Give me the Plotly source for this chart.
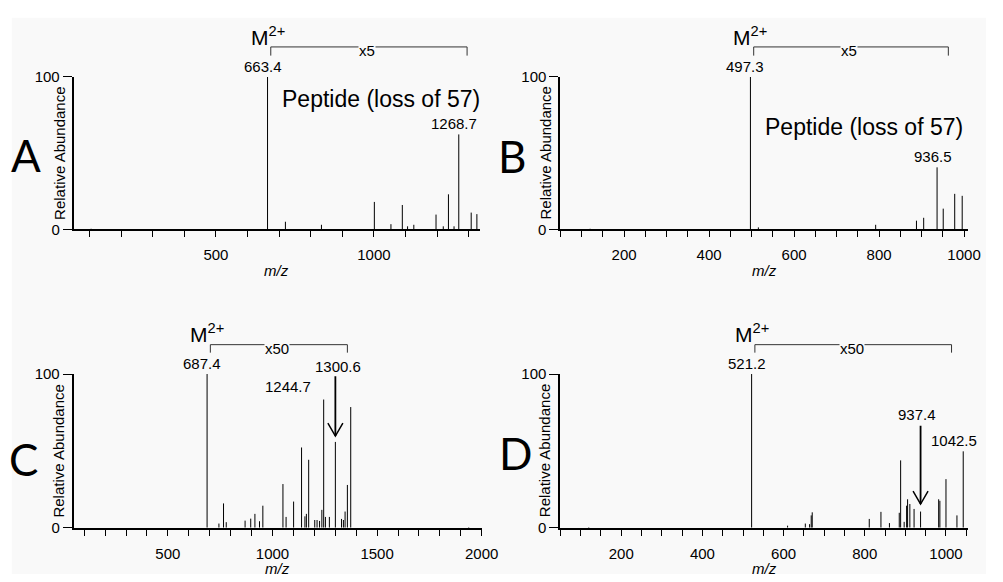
import plotly.graph_objects as go

# ---------------- data ----------------
# Panel A
a_mz = [105, 663.4, 720, 834, 1001.5, 1054, 1090, 1106.6, 1126.4, 1196.7, 1219.6, 1236, 1253.7, 1268.7, 1308, 1326]
a_int = [0.4, 100, 5, 3, 18, 3.4, 16, 2, 3, 9.7, 2, 23, 2, 62.3, 11, 10]
# Panel B
b_mz = [120, 497.3, 516, 792, 888, 905, 936.5, 951, 978, 995.6]
b_int = [0.4, 100, 1.3, 3, 5.7, 7.6, 40.7, 13.6, 23.3, 22]
# Panel C
c_mz = [687.4, 744, 766, 779, 869, 896, 916, 938, 954, 1050, 1065, 1101, 1139, 1155, 1162, 1173,
        1202, 1213, 1225, 1236, 1244.7, 1253, 1272, 1300.6, 1330, 1339, 1347, 1358, 1374, 1938]
c_int = [100, 2.7, 15.8, 3.6, 4.6, 5.9, 9, 4.2, 14.3, 28.4, 7, 17, 52.2, 7.4, 9, 44.2,
         5, 5, 4.4, 11.6, 83.4, 7, 7, 55.8, 5.7, 5, 10.5, 27.8, 78.5, 0.4]
# Panel D
d_mz = [120, 521.2, 609.8, 653.5, 664, 668, 670.5, 811, 839.8, 860.7, 884.9, 888.3, 897, 903, 905.4,
        911, 921.4, 937.4, 982, 985, 1000, 1027, 1042.5]
d_int = [0.4, 100, 1.3, 2.7, 2.3, 8, 10, 5.7, 10.3, 3, 9.7, 43.8, 3.8, 14.3, 18.5,
         15.4, 12.2, 10.5, 18.5, 17.5, 31.6, 8, 49.7]

panel_letters = ["A", "B", "C", "D"]
x_ranges = [[50, 1335], [50, 1010], [50, 2000], [50, 1055]]
x_major = [500, 200, 500, 200]
x_minor = [100, 50, 100, 50]
parent_mz = [663.4, 497.3, 687.4, 521.2]
parent_labels = ["663.4", "497.3", "687.4", "521.2"]
bracket_end = [1295, 963, 1358, 1013.7]
zoom_labels = ["x5", "x5", "x50", "x50"]
y_ticks = [0, 100]
y_title = "Relative Abundance"
x_title = "<i>m/z</i>"
# arrows marking the loss product (panel C and D): m/z, tip, tail (relative abundance units)
arrow_mz = [1300.6, 937.4]
arrow_tip = [59.6, 15.4]
arrow_tail = [98.5, 66.3]

peaks = [(a_mz, a_int), (b_mz, b_int), (c_mz, c_int), (d_mz, d_int)]

# ---------------- layout geometry ----------------
W, H = 1003, 582
BG = "#f9f9f9"
FONT = "Liberation Sans, Arial, sans-serif"
x_domains = [[75 / W, 488 / W], [570 / W, 985 / W], [75 / W, 490 / W], [570 / W, 985 / W]]
y_domains = [[(H - 227) / H, (H - 70) / H], [(H - 227) / H, (H - 70) / H],
             [(H - 534.3) / H, (H - 376) / H], [(H - 534.3) / H, (H - 376) / H]]
letter_shift = [(-48, -2), (-48, -3), (-50, -8), (-45, -2)]

fig = go.Figure()
shapes = []
annotations = []

# light grey page area with thin white border at top/left
shapes.append(dict(type="rect", xref="paper", yref="paper", x0=12 / W, x1=1, y0=0, y1=(H - 9) / H,
                   fillcolor=BG, line=dict(width=0), layer="below"))


def txt(size):
    return dict(family=FONT, size=size, color="black")


for i in range(4):
    n = "" if i == 0 else str(i + 1)
    xa, ya = "x" + n, "y" + n
    mz, inten = peaks[i]
    xs, ys = [], []
    for m, v in zip(mz, inten):
        xs += [m, m, None]
        ys += [0, v, None]
    fig.add_trace(go.Scatter(x=xs, y=ys, mode="lines", line=dict(color="black", width=1),
                             xaxis=xa, yaxis=ya, showlegend=False, hoverinfo="skip"))

    fig.layout["xaxis" + n] = dict(
        domain=x_domains[i], anchor=ya, range=x_ranges[i], showgrid=False, zeroline=False,
        showline=True, linewidth=2, linecolor="black", ticks="outside", ticklen=6, tickwidth=1,
        tickcolor="black", dtick=x_major[i], tick0=0, ticklabelstandoff=5,
        minor=dict(dtick=x_minor[i], tick0=0, ticks="outside", ticklen=6, tickwidth=1,
                   tickcolor="black", showgrid=False),
        tickfont=txt(15))
    fig.layout["yaxis" + n] = dict(
        domain=y_domains[i], anchor=xa, range=[0, 100], showgrid=False, zeroline=False,
        showline=True, linewidth=2, linecolor="black", ticks="outside", ticklen=9, tickwidth=1,
        tickcolor="black", tickvals=y_ticks, ticklabelstandoff=0,
        tickfont=txt(15))

    xd, yd = xa + " domain", ya + " domain"
    top = 1.197 if i < 2 else 1.191
    end = 1.140 if i < 2 else 1.139
    x0 = parent_mz[i] + (x_ranges[i][1] - x_ranges[i][0]) * 0.008
    shapes.append(dict(type="path", xref=xa, yref=yd,
                       path=f"M {x0},{end} L {x0},{top} L {bracket_end[i]},{top} L {bracket_end[i]},{end}",
                       line=dict(color="#333", width=1)))
    annotations.append(dict(x=(parent_mz[i] + bracket_end[i]) / 2, y=top - 0.025, xref=xa, yref=yd,
                            text=zoom_labels[i], showarrow=False, bgcolor=BG, borderpad=0,
                            font=txt(15), xanchor="center", yanchor="middle"))
    annotations.append(dict(x=parent_mz[i], y=1.27, xref=xa, yref=yd, text="M<sup>2+</sup>",
                            showarrow=False, font=txt(21), xanchor="center", yanchor="middle"))
    annotations.append(dict(x=parent_mz[i], y=100, xref=xa, yref=ya, text=parent_labels[i],
                            showarrow=False, xshift=-5, xanchor="center", yanchor="bottom",
                            font=txt(15)))
    annotations.append(dict(x=0, y=0.5, xref=xd, yref=yd, xshift=letter_shift[i][0],
                            yshift=letter_shift[i][1], text=panel_letters[i], showarrow=False,
                            font=dict(family="Lato, Open Sans, sans-serif", size=44, color="black"),
                            xanchor="center", yanchor="middle"))
    annotations.append(dict(x=0, y=0.5, xref=xd, yref=yd, xshift=-15, text=y_title,
                            textangle=-90, showarrow=False, xanchor="center", yanchor="middle",
                            font=txt(15)))
    annotations.append(dict(x=0.5, y=0, xref=xd, yref=yd, yshift=-41, text=x_title,
                            showarrow=False, xanchor="center", yanchor="middle", font=txt(15)))

# arrows (shaft + open V head) in panels C and D
for k, (xa, ya) in enumerate([("x3", "y3"), ("x4", "y4")]):
    shapes.append(dict(type="line", xref=xa, yref=ya, x0=arrow_mz[k], x1=arrow_mz[k],
                       y0=arrow_tip[k], y1=arrow_tail[k], line=dict(color="black", width=1.8)))
    shapes.append(dict(type="path", xref=xa, yref=ya, xsizemode="pixel", ysizemode="pixel",
                       xanchor=arrow_mz[k], yanchor=arrow_tip[k], path="M -7.5,13 L 0,0 L 7.5,13",
                       line=dict(color="black", width=1.5)))

# Panel specific labels
annotations += [
    dict(x=0.758, y=0.854, xref="x domain", yref="y domain", text="Peptide (loss of 57)",
         showarrow=False, xanchor="center", yanchor="middle", font=txt(23)),
    dict(x=1268.7, y=62.3, xref="x", yref="y", text="1268.7", showarrow=False, xshift=-5,
         xanchor="center", yanchor="bottom", font=txt(15)),
    dict(x=0.745, y=0.67, xref="x2 domain", yref="y2 domain", text="Peptide (loss of 57)",
         showarrow=False, xanchor="center", yanchor="middle", font=txt(23)),
    dict(x=936.5, y=40.7, xref="x2", yref="y2", text="936.5", showarrow=False, xshift=-4,
         xanchor="center", yanchor="bottom", font=txt(15)),
    dict(x=1300.6, y=1.049, xref="x3", yref="y3 domain", text="1300.6", showarrow=False, xshift=3,
         xanchor="center", yanchor="middle", font=txt(15)),
    dict(x=1244.7, y=91.6, xref="x3", yref="y3", text="1244.7", showarrow=False, xshift=-11,
         xanchor="right", yanchor="middle", font=txt(15)),
    dict(x=937.4, y=73.9, xref="x4", yref="y4", text="937.4", showarrow=False, xshift=-4,
         xanchor="center", yanchor="middle", font=txt(15)),
    dict(x=1042.5, y=49.7, xref="x4", yref="y4", text="1042.5", showarrow=False, xshift=-9,
         xanchor="center", yanchor="bottom", font=txt(15)),
]

fig.update_layout(width=W, height=H, margin=dict(l=0, r=0, t=0, b=0),
                  paper_bgcolor="white", plot_bgcolor="rgba(0,0,0,0)",
                  shapes=shapes, annotations=annotations, showlegend=False,
                  font=dict(family=FONT, color="black"))

# pin the figure to the top-left corner of the window (no page margin / scrollbars)
post = ("document.documentElement.style.margin='0';document.body.style.margin='0';"
        "document.body.style.overflow='hidden';"
        "var gd=document.getElementById('{plot_id}');gd.style.position='fixed';"
        "gd.style.left='0px';gd.style.top='0px';")

fig.write_html("out.html", post_script=post, config={"displayModeBar": False})
